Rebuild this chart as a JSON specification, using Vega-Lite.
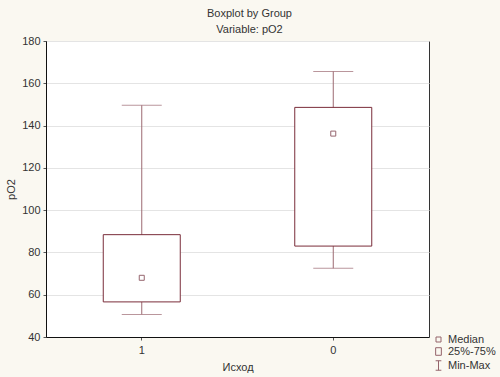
{
  "$schema": "https://vega.github.io/schema/vega-lite/v6.json",
  "autosize": "none",
  "width": 383,
  "height": 296,
  "padding": {"left": 46, "top": 41, "right": 71, "bottom": 40},
  "background": "#faf8f1",
  "config": {
    "font": "Liberation Sans",
    "view": {"fill": "white", "stroke": "#333333", "strokeWidth": 1},
    "axis": {"labelFont": "Liberation Sans", "titleFont": "Liberation Sans", "labelFontSize": 11, "titleFontSize": 11, "labelColor": "#333333", "titleColor": "#333333", "titleFontWeight": "normal", "domainColor": "#111111", "tickColor": "#555555", "gridColor": "#e4e4e4"}
  },
  "title": {
    "text": ["Boxplot by Group", "Variable: pO2"],
    "font": "Liberation Sans",
    "fontSize": 11,
    "fontWeight": "normal",
    "color": "#333333",
    "lineHeight": 16,
    "anchor": "middle",
    "dx": 12,
    "offset": 0
  },
  "data": {
    "values": [
      {"group": "1", "stat": "Median", "min": 50.7, "q1": 56.6, "median": 68, "q3": 88.4, "max": 149.6},
      {"group": "0", "stat": "Median", "min": 72.5, "q1": 83, "median": 136.2, "q3": 148.6, "max": 165.6}
    ]
  },
  "encoding": {
    "x": {
      "field": "group", "type": "nominal", "sort": ["1", "0"],
      "scale": {"paddingInner": 0, "paddingOuter": 0},
      "axis": {"title": "Исход", "labelAngle": 0, "tickSize": 3, "labelPadding": 4, "titlePadding": 6, "grid": false}
    }
  },
  "layer": [
    {
      "mark": {"type": "rule", "color": "#9c6a72", "strokeWidth": 1},
      "encoding": {
        "y": {"field": "min", "type": "quantitative", "scale": {"domain": [40, 180], "nice": false}, "axis": {"title": "pO2", "values": [40, 60, 80, 100, 120, 140, 160, 180], "tickSize": 3, "labelPadding": 3, "titlePadding": 5, "grid": true}},
        "y2": {"field": "max"}
      }
    },
    {
      "mark": {"type": "tick", "color": "#9c6a72", "thickness": 1, "size": 40, "orient": "horizontal"},
      "encoding": {"y": {"field": "min", "type": "quantitative"}}
    },
    {
      "mark": {"type": "tick", "color": "#9c6a72", "thickness": 1, "size": 40, "orient": "horizontal"},
      "encoding": {"y": {"field": "max", "type": "quantitative"}}
    },
    {
      "mark": {"type": "bar", "width": 77, "fill": "white", "stroke": "#7a2d3a", "strokeWidth": 1},
      "encoding": {
        "y": {"field": "q1", "type": "quantitative"},
        "y2": {"field": "q3"}
      }
    },
    {
      "mark": {"type": "point", "filled": false, "strokeWidth": 1, "color": "#6b2633"},
      "encoding": {
        "y": {"field": "median", "type": "quantitative"},
        "shape": {
          "field": "stat", "type": "nominal",
          "scale": {"domain": ["Median", "25%-75%", "Min-Max"], "range": ["M-1,-1H1V1H-1Z", "M-0.75,-1H0.75V1H-0.75Z", "M-0.6,-1H0.6M0,-1V1M-0.6,1H0.6"]},
          "legend": {"title": null, "orient": "none", "legendX": 387, "legendY": 293, "labelFont": "Liberation Sans", "labelFontSize": 11, "labelColor": "#333333", "symbolStrokeColor": "#7a2d3a", "symbolFillColor": "transparent", "symbolStrokeWidth": 1, "rowPadding": 0, "labelOffset": 4, "symbolSize": 90}
        },
        "size": {
          "field": "stat", "type": "nominal",
          "scale": {"domain": ["Median", "25%-75%", "Min-Max"], "range": [25, 90, 90]}
        }
      }
    }
  ]
}
